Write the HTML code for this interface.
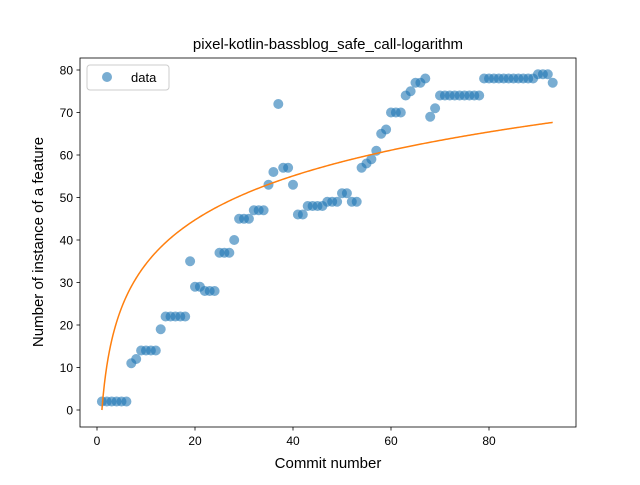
<!DOCTYPE html>
<html><head><meta charset="utf-8"><style>
body{margin:0;background:#fff;}
svg text{font-family:"Liberation Sans","DejaVu Sans",sans-serif;fill:#000;}
</style></head><body>
<svg width="640" height="480" viewBox="0 0 640 480">
<rect width="640" height="480" fill="#fff"/>
<text x="328" y="49" font-size="15" text-anchor="middle">pixel-kotlin-bassblog_safe_call-logarithm</text>
<g id="plot"></g>
<rect x="80" y="58" width="496" height="369" fill="none" stroke="#000" stroke-width="0.8"/>
<text x="328" y="468" font-size="15" text-anchor="middle">Commit number</text>
<text transform="translate(43,242) rotate(-90)" font-size="15" text-anchor="middle">Number of instance of a feature</text>
<g>
<rect x="87" y="65" width="82" height="25" rx="3" fill="#fff" fill-opacity="0.8" stroke="#ccc"/>
<circle cx="107" cy="77" r="5" fill="#1f77b4" fill-opacity="0.6"/>
<text x="131" y="82" font-size="13">data</text>
</g>
</svg>
<script>
const xValues=[];for(let i=1;i<=93;i++)xValues.push(i);
const yValues=[2,2,2,2,2,2,11,12,14,14,14,14,19,22,22,22,22,22,35,29,29,28,28,28,37,37,37,40,45,45,45,47,47,47,53,56,72,57,57,53,46,46,48,48,48,48,49,49,49,51,51,49,49,57,58,59,61,65,66,70,70,70,74,75,77,77,78,69,71,74,74,74,74,74,74,74,74,74,78,78,78,78,78,78,78,78,78,78,78,79,79,79,77];
const fitParams=[0,14.93];
const xTicks=[0,20,40,60,80];
const yTicks=[0,10,20,30,40,50,60,70,80];
const NS='http://www.w3.org/2000/svg';
const g=document.getElementById('plot');
const sx=v=>97+v*4.9, sy=v=>410-v*4.25;
function mk(t,a){const e=document.createElementNS(NS,t);for(const k in a)e.setAttribute(k,a[k]);g.appendChild(e);return e;}
xTicks.forEach(t=>{
 const l=mk('line',{x1:sx(t),x2:sx(t),y1:427,y2:430.5,stroke:'#000','stroke-width':0.8});
 
 
 const tx=mk('text',{x:sx(t),y:445,'font-size':12,'text-anchor':'middle'});tx.textContent=t;
 
 
});
yTicks.forEach(t=>{
 const l=mk('line',{x1:76.5,x2:80,y1:sy(t),y2:sy(t),stroke:'#000','stroke-width':0.8});
 
 
 const tx=mk('text',{x:73,y:sy(t)+4.5,'font-size':12,'text-anchor':'end'});tx.textContent=t;
 
 
});
xValues.forEach((x,i)=>{
 const c=mk('circle',{cx:sx(x),cy:sy(yValues[i]),r:5,fill:'#1f77b4','fill-opacity':0.6});
 
 
});
let d='';
for(let x=1;x<=93;x+=0.25){const y=fitParams[0]+fitParams[1]*Math.log(x);d+=(d?'L':'M')+sx(x).toFixed(2)+','+sy(y).toFixed(2);}
const p=mk('path',{d:d,fill:'none',stroke:'#ff7f0e','stroke-width':1.5});


</script>
</body></html>
